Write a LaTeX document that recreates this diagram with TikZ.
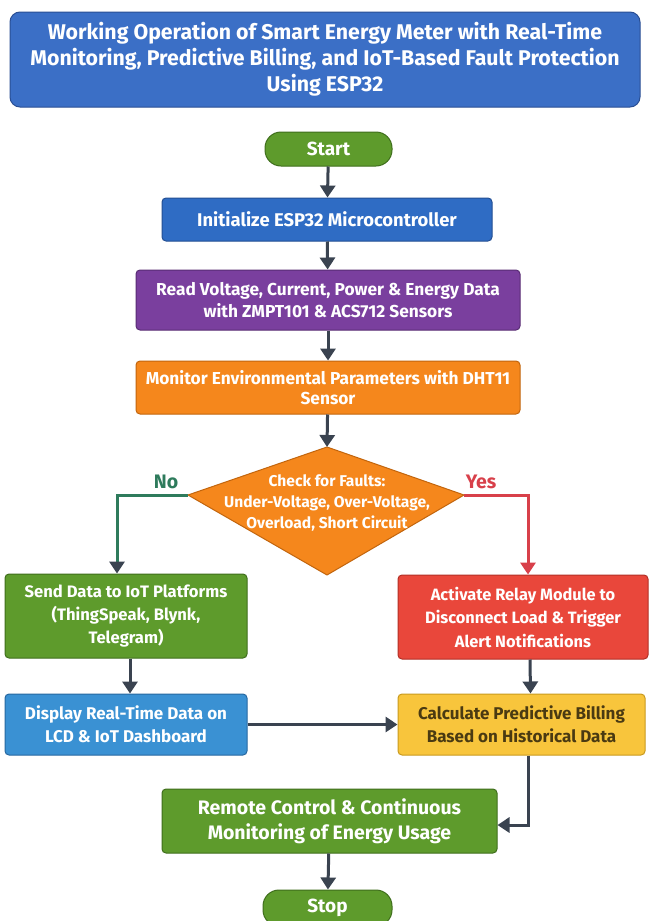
\documentclass[tikz,border=0pt]{standalone}
\usepackage{fontspec}
\setmainfont{Fira Sans}
\usepackage{xcolor}
\usepackage{tikz}
\usetikzlibrary{calc,arrows.meta}
\definecolor{titleblue}{HTML}{3B6FC6}
\definecolor{titleedge}{HTML}{2A4F94}
\definecolor{leaf}{HTML}{5E9B2C}
\definecolor{leafedge}{HTML}{3F6E1C}
\definecolor{initblue}{HTML}{2F6CC4}
\definecolor{initedge}{HTML}{234F93}
\definecolor{grape}{HTML}{7A3F9E}
\definecolor{grapeedge}{HTML}{582C74}
\definecolor{amber}{HTML}{F5871C}
\definecolor{amberedge}{HTML}{C2650D}
\definecolor{alarm}{HTML}{E9473B}
\definecolor{alarmedge}{HTML}{B23026}
\definecolor{sky}{HTML}{3A91D3}
\definecolor{skyedge}{HTML}{2768A0}
\definecolor{sun}{HTML}{F8C53C}
\definecolor{sunedge}{HTML}{C99A1E}
\definecolor{suntext}{HTML}{4A3A12}
\definecolor{wire}{HTML}{3A4350}
\definecolor{nogreen}{HTML}{2E7B5C}
\definecolor{yesred}{HTML}{D8404A}
\tikzset{
  stepbox/.style={rounded corners=4pt, line width=1pt, text=white, align=center,
    font=\bfseries\fontsize{17}{23}\selectfont, inner sep=0pt},
  pill/.style={stepbox, rounded corners=16pt, fill=leaf, draw=leafedge,
    font=\bfseries\fontsize{19}{22}\selectfont},
  flow/.style={draw=wire, line width=3pt, -{Triangle[length=12pt,width=15pt]}},
  lab/.style={font=\bfseries\fontsize{19.5}{22}\selectfont}
}
\begin{document}
\begin{tikzpicture}[x=1pt,y=-1pt]
  \useasboundingbox (0,0) rectangle (648,921);
  \fill[white] (0,0) rectangle (648,921);

  \node[stepbox, rounded corners=10pt, fill=titleblue, draw=titleedge,
    minimum width=630pt, minimum height=95pt,
    font=\bfseries\fontsize{21.3}{26}\selectfont] (title) at (325,59.5)
    {Working Operation of Smart Energy Meter with Real-Time\\
     Monitoring, Predictive Billing, and IoT-Based Fault Protection\\
     Using ESP32};

  \node[pill, minimum width=127pt, minimum height=34pt] (start) at (328.5,149) {Start};
  \node[stepbox, fill=initblue, draw=initedge, minimum width=330pt, minimum height=43pt,
    font=\bfseries\fontsize{18.4}{22}\selectfont] (init) at (327,219.5)
    {Initialize ESP32 Microcontroller};
  \node[stepbox, fill=grape, draw=grapeedge, minimum width=384pt, minimum height=60pt,
    font=\bfseries\fontsize{17.3}{22}\selectfont] (read) at (328,300)
    {Read Voltage, Current, Power \& Energy Data\\with ZMPT101 \& ACS712 Sensors};
  \node[stepbox, fill=amber, draw=amberedge, minimum width=384pt, minimum height=53pt,
    font=\bfseries\fontsize{17.3}{20}\selectfont] (env) at (328,387.5)
    {Monitor Environmental Parameters with DHT11\\Sensor};

  % fault check diamond
  \coordinate (dtop) at (327,447);
  \coordinate (dleft) at (188,495);
  \coordinate (dright) at (464,495);
  \coordinate (dbot) at (327,575);
  \draw[fill=amber, draw=amberedge, line width=1pt, line join=round]
    (dtop) -- (dright) -- (dbot) -- (dleft) -- cycle;
  \node[stepbox, font=\bfseries\fontsize{15.6}{21}\selectfont] (check) at (327,503)
    {Check for Faults:\\Under-Voltage, Over-Voltage,\\Overload, Short Circuit};

  \node[stepbox, fill=leaf, draw=leafedge, minimum width=242pt, minimum height=84pt,
    font=\bfseries\fontsize{16.6}{23}\selectfont] (send) at (126,616)
    {Send Data to IoT Platforms\\(ThingSpeak, Blynk,\\Telegram)};
  \node[stepbox, fill=alarm, draw=alarmedge, minimum width=250pt, minimum height=84pt,
    font=\bfseries\fontsize{16.4}{23.5}\selectfont] (act) at (523,617)
    {Activate Relay Module to\\Disconnect Load \& Trigger\\Alert Notifications};
  \node[stepbox, fill=sky, draw=skyedge, minimum width=242pt, minimum height=61pt] (disp) at (126,724.5)
    {Display Real-Time Data on\\LCD \& IoT Dashboard};
  \node[stepbox, fill=sun, draw=sunedge, text=suntext, minimum width=247pt, minimum height=61pt] (calc) at (521.5,724.5)
    {Calculate Predictive Billing\\Based on Historical Data};
  \node[stepbox, fill=leaf, draw=leafedge, minimum width=335pt, minimum height=64pt,
    font=\bfseries\fontsize{19.5}{25}\selectfont] (remote) at (329.5,821)
    {Remote Control \& Continuous\\Monitoring of Energy Usage};
  \node[pill, minimum width=129pt, minimum height=36pt] (stop) at (327.5,908) {Stop};

  \draw[flow] (start) -- (init);
  \draw[flow] (init) -- (read);
  \draw[flow] (read) -- (env);
  \draw[flow] (env) -- (dtop);

  \draw[flow, draw=nogreen, -{Triangle[length=12pt,width=15pt,color=wire]}]
    (dleft) -| ([xshift=-9pt]send.north);
  \draw[flow, draw=yesred] (dright) -| ([xshift=5pt]act.north);
  \node[lab, text=nogreen] (no) at (166,482) {No};
  \node[lab, text=yesred] (yes) at (481,482) {Yes};

  \draw[flow] ([xshift=4pt]send.south) -- ([xshift=4pt]disp.north);
  \draw[flow] ([xshift=7pt]act.south) -- ([xshift=9pt]calc.north);
  \draw[flow] (disp) -- (calc);
  \draw[flow] ([xshift=7pt]calc.south) |- ([yshift=-4pt]remote.east);
  \draw[flow] (remote) -- (stop);
\end{tikzpicture}
\end{document}
